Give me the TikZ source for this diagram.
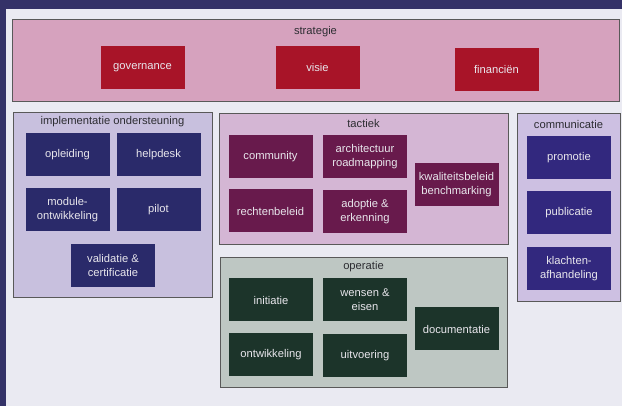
\documentclass[tikz,border=0pt]{standalone}
\usepackage{fontspec}
\setmainfont{Liberation Sans}
\definecolor{pagebg}{RGB}{234,234,242}
\definecolor{frameband}{RGB}{52,50,104}
\definecolor{stratfill}{RGB}{214,162,190}
\definecolor{stratbox}{RGB}{168,20,40}
\definecolor{implfill}{RGB}{200,192,222}
\definecolor{implbox}{RGB}{42,42,106}
\definecolor{tactfill}{RGB}{212,182,212}
\definecolor{tactbox}{RGB}{104,26,76}
\definecolor{operfill}{RGB}{190,199,195}
\definecolor{operbox}{RGB}{28,52,42}
\definecolor{commfill}{RGB}{205,192,226}
\definecolor{commbox}{RGB}{50,40,126}
\definecolor{boxtext}{RGB}{232,230,236}
\definecolor{titletext}{RGB}{45,45,50}

\begin{document}
\begin{tikzpicture}[x=1pt, y=-1pt,
  group/.style={draw=black!65, line width=0.8pt, rectangle, inner sep=0pt},
  grouptitle/.style={text=titletext, font=\fontsize{11.2}{13}\selectfont},
  item/.style={rectangle, minimum width=84pt, minimum height=43pt, inner sep=1pt,
    text=boxtext, align=center, font=\fontsize{11.2}{14}\selectfont}]
\useasboundingbox (0,0) rectangle (622,406);
\fill[pagebg] (0,0) rectangle (622,406);
\fill[frameband] (0,0) rectangle (622,9);
\fill[frameband] (0,0) rectangle (6,406);

% strategie
\node[group, fill=stratfill, minimum width=607pt, minimum height=82pt] (strategie) at (315.5,60) {};
\node[grouptitle] (strategietitel) at (315.5,32) {strategie};
\node[item, fill=stratbox] (governance) at (142.5,67.5) {governance};
\node[item, fill=stratbox] (visie) at (317.5,67.5) {visie};
\node[item, fill=stratbox] (financien) at (496.5,69.5) {financiën};

% implementatie ondersteuning
\node[group, fill=implfill, minimum width=199pt, minimum height=185pt] (implementatie) at (112.5,204.5) {};
\node[grouptitle] (implementatietitel) at (112.5,122) {implementatie ondersteuning};
\node[item, fill=implbox] (opleiding) at (67.5,155) {opleiding};
\node[item, fill=implbox] (helpdesk) at (158.5,155) {helpdesk};
\node[item, fill=implbox] (module) at (67.5,210) {module-\\ontwikkeling};
\node[item, fill=implbox] (pilot) at (158.5,210) {pilot};
\node[item, fill=implbox] (validatie) at (113,265.5) {validatie \&\\certificatie};

% tactiek
\node[group, fill=tactfill, minimum width=289pt, minimum height=131pt] (tactiek) at (363.5,178.5) {};
\node[grouptitle] (tactiektitel) at (363.5,123) {tactiek};
\node[item, fill=tactbox] (community) at (270.5,156.5) {community};
\node[item, fill=tactbox] (rechtenbeleid) at (270.5,211) {rechtenbeleid};
\node[item, fill=tactbox] (architectuur) at (365,157) {architectuur\\roadmapping};
\node[item, fill=tactbox] (adoptie) at (365,212) {adoptie \&\\erkenning};
\node[item, fill=tactbox] (kwaliteit) at (456.5,185) {kwaliteitsbeleid\\benchmarking};

% communicatie
\node[group, fill=commfill, minimum width=103pt, minimum height=188pt] (communicatie) at (568.5,207) {};
\node[grouptitle] (communicatietitel) at (568.5,124) {communicatie};
\node[item, fill=commbox] (promotie) at (569,157.5) {promotie};
\node[item, fill=commbox] (publicatie) at (569,213) {publicatie};
\node[item, fill=commbox] (klachten) at (569,268.5) {klachten-\\afhandeling};

% operatie
\node[group, fill=operfill, minimum width=287pt, minimum height=130pt] (operatie) at (363.5,322) {};
\node[grouptitle] (operatietitel) at (363.5,267) {operatie};
\node[item, fill=operbox] (initiatie) at (271,300) {initiatie};
\node[item, fill=operbox] (wensen) at (365,300) {wensen \&\\eisen};
\node[item, fill=operbox] (ontwikkeling) at (271,355) {ontwikkeling};
\node[item, fill=operbox] (uitvoering) at (365,356) {uitvoering};
\node[item, fill=operbox] (documentatie) at (456.5,329) {documentatie};
\end{tikzpicture}
\end{document}
